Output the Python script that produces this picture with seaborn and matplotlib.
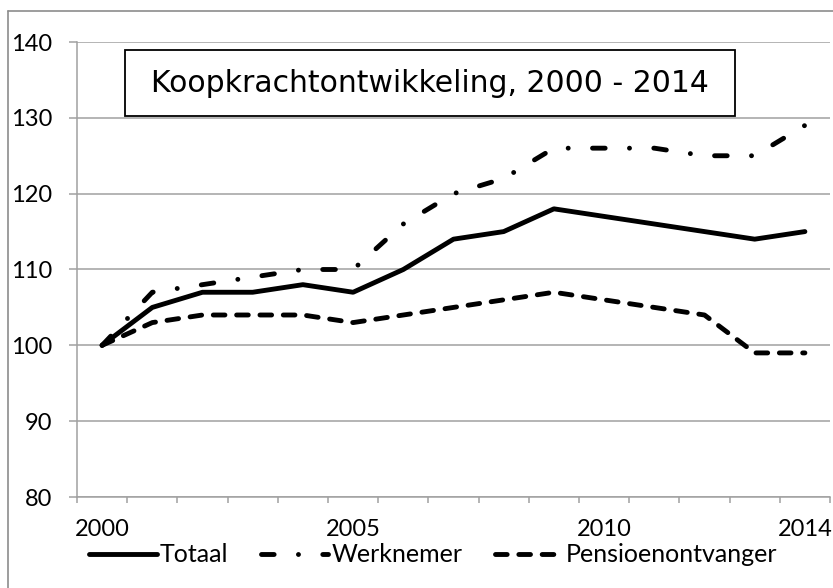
import numpy as np
import pandas as pd
import seaborn as sns
import matplotlib.pyplot as plt
from matplotlib.patches import Rectangle
from matplotlib.lines import Line2D

# data (index, 2000 = 100)
years = list(range(2000, 2015))
totaal = [100, 105, 107, 107, 108, 107, 110, 114, 115, 118, 117, 116, 115, 114, 115]
werknemer = [100, 107, 108, 109, 110, 110, 116, 120, 122, 126, 126, 126, 125, 125, 129]
pensioen = [100, 103, 104, 104, 104, 103, 104, 105, 106, 107, 106, 105, 104, 99, 99]
series_names = ["Totaal", "Werknemer", "Pensioenontvanger"]
year_labels = [2000, 2005, 2010, 2014]
title = "Koopkrachtontwikkeling, 2000 - 2014"

df = pd.DataFrame({"Jaar": years, "Totaal": totaal,
                   "Werknemer": werknemer, "Pensioenontvanger": pensioen})
long = df.melt(id_vars="Jaar", var_name="Reeks", value_name="Index")

sns.set_style("white")
plt.rcParams["font.family"] = ["Lato", "DejaVu Sans"]
plt.rcParams["text.color"] = "black"
plt.rcParams["xtick.labelcolor"] = "black"
plt.rcParams["ytick.labelcolor"] = "black"

grey = "#A0A0A0"
fig = plt.figure(figsize=(8.33, 5.88), dpi=100)
ax = fig.add_axes([77 / 833, 1 - 497 / 588, 753 / 833, 455 / 588])

dashes = {"Totaal": "", "Werknemer": (2.6, 5.0, 0.01, 5.0), "Pensioenontvanger": (2.4, 2.4)}
sns.lineplot(data=long, x="Jaar", y="Index", hue="Reeks", style="Reeks",
             hue_order=series_names, style_order=series_names,
             palette=["black"] * 3, dashes=dashes, linewidth=3.5,
             dash_capstyle="round", solid_capstyle="round",
             solid_joinstyle="round", dash_joinstyle="round",
             legend=False, ax=ax)

ax.set_xlim(1999.5, 2014.5)
ax.set_ylim(80, 140)
ax.set_yticks(np.arange(80, 141, 10))
ax.set_xticks(year_labels)
ax.set_xticks(np.arange(1999.5, 2015, 1), minor=True)
ax.set_xlabel("")
ax.set_ylabel("")
ax.grid(axis="y", color=grey, linewidth=1.1)
ax.grid(axis="x", visible=False)
ax.set_axisbelow(True)
for s in ["top", "right"]:
    ax.spines[s].set_visible(False)
for s in ["left", "bottom"]:
    ax.spines[s].set_color(grey)
    ax.spines[s].set_linewidth(1.1)
ax.tick_params(axis="y", direction="out", length=5.8, width=1.1, color=grey,
               pad=12, labelsize=17, left=True)
ax.tick_params(axis="x", which="major", length=0, pad=16, labelsize=17)
ax.tick_params(axis="x", which="minor", direction="out", length=4.5, width=1.1,
               color=grey, bottom=True)

# title box
ax.add_patch(Rectangle((125 / 833, 1 - 116 / 588), 610 / 833, 66 / 588,
                       transform=fig.transFigure, facecolor="white",
                       edgecolor="black", linewidth=1.3, zorder=5))
fig.text(430 / 833, 1 - 84 / 588, title, ha="center", va="center",
         fontsize=21.5, family="DejaVu Sans", zorder=6)

# legend
handles = ax.get_lines()[:3]
fig.legend(handles, series_names, loc="center", ncol=3,
           bbox_to_anchor=(433 / 833, 1 - 555 / 588), frameon=False,
           fontsize=18, handlelength=2.7, handletextpad=0.12,
           columnspacing=1.3, borderpad=0)

# chart-area border (left and top edges visible)
fig.add_artist(Line2D([8 / 833, 8 / 833], [0, 1 - 11 / 588], color="#8C8C8C",
                      linewidth=1.2, transform=fig.transFigure))
fig.add_artist(Line2D([8 / 833, 1], [1 - 11 / 588, 1 - 11 / 588], color="#8C8C8C",
                      linewidth=1.2, transform=fig.transFigure))

fig.savefig("out.png", dpi=100)
